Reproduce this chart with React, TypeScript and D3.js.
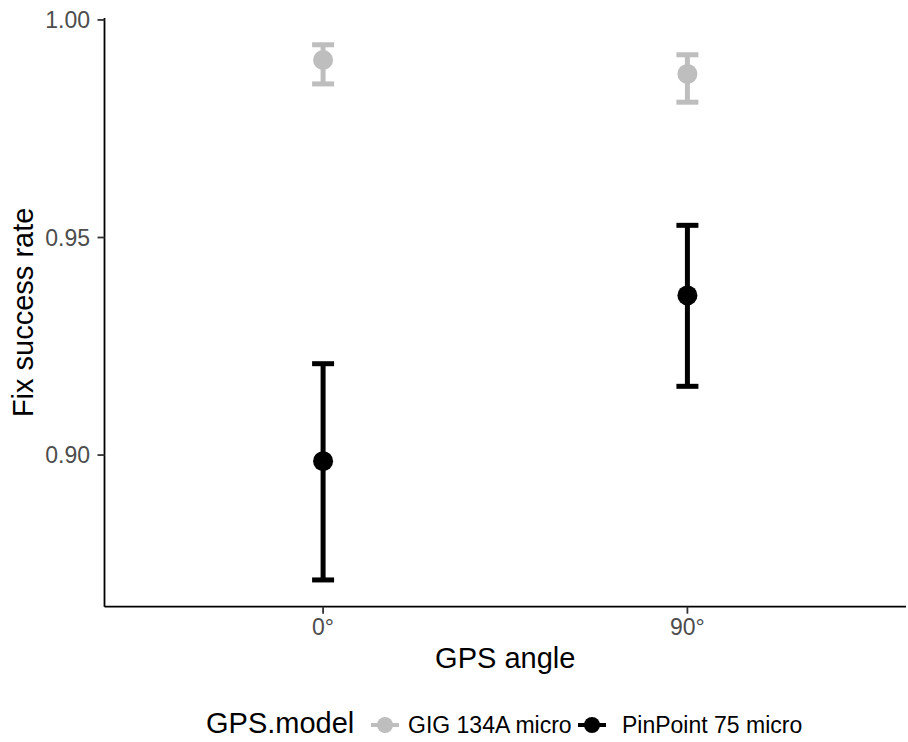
import React from "react";
import * as d3 from "d3";

const angles = ["0°", "90°"];
const models = ["GIG 134A micro", "PinPoint 75 micro"];
const modelColors = ["#BEBEBE", "#000000"];
// values per model, in angle order
const gigMean = [0.9908, 0.9876];
const gigLower = [0.9853, 0.9811];
const gigUpper = [0.9943, 0.992];
const pinMean = [0.8986, 0.9367];
const pinLower = [0.8713, 0.9158];
const pinUpper = [0.921, 0.9528];
const yTicks = [0.9, 0.95, 1.0];

const W = 908;
const H = 742;

export default function App() {
  if (typeof document !== "undefined") document.body.style.margin = "0";
  const left = 104.5;
  const right = 906;
  const top = 18;
  const bottom = 606.7;

  const series = [
    { name: models[0], color: modelColors[0], mean: gigMean, lo: gigLower, hi: gigUpper },
    { name: models[1], color: modelColors[1], mean: pinMean, lo: pinLower, hi: pinUpper },
  ];
  const allVals = [...gigLower, ...gigUpper, ...pinLower, ...pinUpper];
  const mn = d3.min(allVals)!;
  const mx = d3.max(allVals)!;
  const pad = (mx - mn) * 0.05;
  const y = d3.scaleLinear().domain([mn - pad, mx + pad]).range([bottom, top]);
  const x = d3.scalePoint<string>().domain(angles).range([left, right]).padding(0.6);

  const font = "'Liberation Sans', Arial, sans-serif";
  const capW = 22;
  const lw = 5;

  return (
    <svg width={W} height={H} style={{ display: "block", background: "#fff" }} fontFamily={font}>
      {/* data */}
      {series.map((s) =>
        angles.map((a, i) => {
          const cx = x(a)!;
          return (
            <g key={s.name + a}>
              <line x1={cx} x2={cx} y1={y(s.hi[i])} y2={y(s.lo[i])} stroke={s.color} strokeWidth={lw} />
              <line x1={cx - capW / 2} x2={cx + capW / 2} y1={y(s.hi[i])} y2={y(s.hi[i])} stroke={s.color} strokeWidth={lw} />
              <line x1={cx - capW / 2} x2={cx + capW / 2} y1={y(s.lo[i])} y2={y(s.lo[i])} stroke={s.color} strokeWidth={lw} />
              <circle cx={cx} cy={y(s.mean[i])} r={10} fill={s.color} />
            </g>
          );
        })
      )}
      {/* axes */}
      <line x1={left} x2={left} y1={top} y2={bottom} stroke="#000" strokeWidth={1.8} />
      <line x1={left} x2={right} y1={bottom} y2={bottom} stroke="#000" strokeWidth={1.8} />
      {yTicks.map((t) => (
        <g key={t}>
          <line x1={left - 7} x2={left} y1={y(t)} y2={y(t)} stroke="#333" strokeWidth={1.8} />
          <text x={90} y={y(t)} dy="0.35em" textAnchor="end" fontSize={23} fill="#4D4D4D">
            {d3.format(".2f")(t)}
          </text>
        </g>
      ))}
      {angles.map((a) => (
        <g key={a}>
          <line x1={x(a)} x2={x(a)} y1={bottom} y2={bottom + 7} stroke="#333" strokeWidth={1.8} />
          <text x={x(a)} y={635} textAnchor="middle" fontSize={23} fill="#4D4D4D">
            {a}
          </text>
        </g>
      ))}
      <text x={(left + right) / 2} y={668} textAnchor="middle" fontSize={29} fill="#000">
        GPS angle
      </text>
      <text
        transform={`translate(33,${(top + bottom) / 2}) rotate(-90)`}
        textAnchor="middle"
        fontSize={29}
        fill="#000"
      >
        Fix success rate
      </text>
      {/* legend */}
      <text x={206} y={733} fontSize={29} fill="#000">GPS.model</text>
      {[
        { cx: 385, tx: 408 },
        { cx: 592, tx: 622 },
      ].map((p, i) => (
        <g key={models[i]}>
          <line x1={p.cx - 14} x2={p.cx + 14} y1={725} y2={725} stroke={modelColors[i]} strokeWidth={4} />
          <circle cx={p.cx} cy={725} r={8} fill={modelColors[i]} />
          <text x={p.tx} y={733} fontSize={23} fill="#000">{models[i]}</text>
        </g>
      ))}
    </svg>
  );
}
